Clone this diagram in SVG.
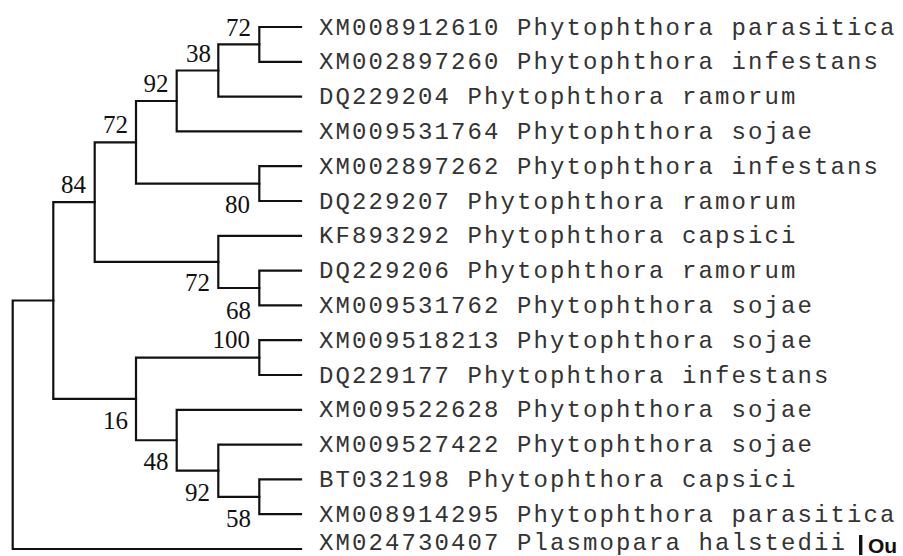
<svg xmlns="http://www.w3.org/2000/svg" width="903" height="556" viewBox="0 0 903 556">
<style>
.br{fill:none;stroke:#111;stroke-width:2.2;stroke-linecap:square}
.lf{font-family:"Liberation Mono","Courier New",monospace;font-size:24px;letter-spacing:2.1px;fill:#333}
.bs{font-family:"Liberation Serif","Times New Roman",serif;font-size:25px;fill:#111;text-anchor:end}
.og{font-family:"Liberation Sans",Arial,sans-serif;font-size:21px;font-weight:bold;fill:#111}
</style>
<rect width="903" height="556" fill="#fff"/>
<g id="connectors">
<path class="br" d="M301 27 H259.3 V61.8 H301"/>
<path class="br" d="M259.3 44.4 H218.3 V96.6 H301"/>
<path class="br" d="M218.3 70.5 H176.7 V131.4 H301"/>
<path class="br" d="M176.7 101 H136 V183.6 H259.3"/>
<path class="br" d="M301 166.2 H259.3 V201 H301"/>
<path class="br" d="M136 142.3 H94.7 V261.9 H218.3"/>
<path class="br" d="M301 235.8 H218.3 V288 H259.3"/>
<path class="br" d="M301 270.6 H259.3 V305.4 H301"/>
<path class="br" d="M94.7 202.1 H53.3 V398.9 H136"/>
<path class="br" d="M301 340.2 H259.3 V375 H301"/>
<path class="br" d="M259.3 357.6 H136 V440.25 H176.7"/>
<path class="br" d="M301 409.8 H176.7 V470.7 H218.3"/>
<path class="br" d="M301 444.6 H218.3 V496.8 H259.3"/>
<path class="br" d="M301 479.4 H259.3 V514.2 H301"/>
<path class="br" d="M53.3 300.5 H12.7 V549 H301"/>
</g>
<g id="bootstrap">
<g id="n1"><text class="bs" x="251" y="36">72</text></g>
<g id="n2"><text class="bs" x="211" y="62">38</text></g>
<g id="n3"><text class="bs" x="168.5" y="92">92</text></g>
<g id="n4"><text class="bs" x="128" y="133">72</text></g>
<g id="n5"><text class="bs" x="86" y="193">84</text></g>
<g id="n6"><text class="bs" x="250" y="213">80</text></g>
<g id="n7"><text class="bs" x="210" y="291">72</text></g>
<g id="n8"><text class="bs" x="251" y="319">68</text></g>
<g id="n9"><text class="bs" x="250" y="348">100</text></g>
<g id="n10"><text class="bs" x="128" y="429">16</text></g>
<g id="n11"><text class="bs" x="168.5" y="470">48</text></g>
<g id="n12"><text class="bs" x="210" y="501">92</text></g>
<g id="n13"><text class="bs" x="251" y="527">58</text></g>
</g>
<g id="leaves">
<g id="leaf1"><text class="lf" x="319" y="34.5">XM008912610 Phytophthora parasitica</text></g>
<g id="leaf2"><text class="lf" x="319" y="69.3">XM002897260 Phytophthora infestans</text></g>
<g id="leaf3"><text class="lf" x="319" y="104.1">DQ229204 Phytophthora ramorum</text></g>
<g id="leaf4"><text class="lf" x="319" y="138.9">XM009531764 Phytophthora sojae</text></g>
<g id="leaf5"><text class="lf" x="319" y="173.7">XM002897262 Phytophthora infestans</text></g>
<g id="leaf6"><text class="lf" x="319" y="208.5">DQ229207 Phytophthora ramorum</text></g>
<g id="leaf7"><text class="lf" x="319" y="243.3">KF893292 Phytophthora capsici</text></g>
<g id="leaf8"><text class="lf" x="319" y="278.1">DQ229206 Phytophthora ramorum</text></g>
<g id="leaf9"><text class="lf" x="319" y="312.9">XM009531762 Phytophthora sojae</text></g>
<g id="leaf10"><text class="lf" x="319" y="347.7">XM009518213 Phytophthora sojae</text></g>
<g id="leaf11"><text class="lf" x="319" y="382.5">DQ229177 Phytophthora infestans</text></g>
<g id="leaf12"><text class="lf" x="319" y="417.3">XM009522628 Phytophthora sojae</text></g>
<g id="leaf13"><text class="lf" x="319" y="452.1">XM009527422 Phytophthora sojae</text></g>
<g id="leaf14"><text class="lf" x="319" y="486.9">BT032198 Phytophthora capsici</text></g>
<g id="leaf15"><text class="lf" x="319" y="521.7">XM008914295 Phytophthora parasitica</text></g>
<g id="leaf16"><text class="lf" x="319" y="550">XM024730407 Plasmopara halstedii</text></g>
</g>
<g id="outgroup-tag">
<rect x="859" y="535" width="3.4" height="20" fill="#111"/>
<text class="og" x="868" y="553">Ou</text>
</g>
</svg>
